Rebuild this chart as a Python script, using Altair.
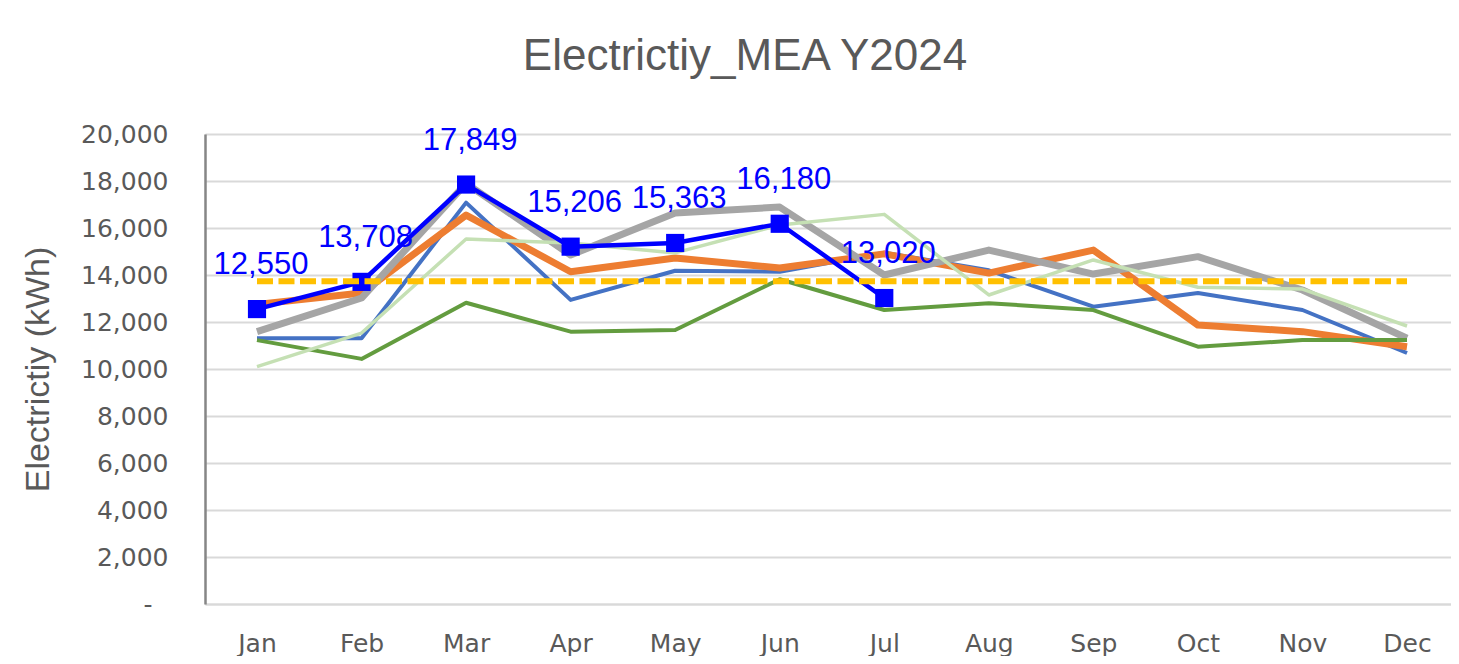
import altair as alt
import pandas as pd

months = ["Jan", "Feb", "Mar", "Apr", "May", "Jun", "Jul", "Aug", "Sep", "Oct", "Nov", "Dec"]

# Earlier years
y_blue = [11310, 11310, 17080, 12940, 14180, 14140, 14950, 14200, 12650, 13230, 12510, 10680]
y_orange = [12750, 13230, 16550, 14140, 14720, 14300, 14900, 14080, 15060, 11870, 11590, 10950]
y_gray = [11590, 13020, 17900, 14850, 16640, 16890, 14000, 15060, 14040, 14780, 13360, 11310]
y_green = [11230, 10430, 12820, 11590, 11660, 13820, 12510, 12800, 12510, 10950, 11230, 11230]
y_lightgreen = [10100, 11530, 15530, 15360, 14940, 16130, 16580, 13150, 14640, 13480, 13400, 11830]

# Current year
months_2024 = ["Jan", "Feb", "Mar", "Apr", "May", "Jun", "Jul"]
y_2024 = [12550, 13708, 17849, 15206, 15363, 16180, 13020]

# Average line
y_avg = [13730] * 12

FONT_T = "Liberation Sans"
FONT_A = "DejaVu Sans"
TXT = "#595959"

x_enc = alt.X(
    "month:N",
    sort=months,
    scale=alt.Scale(type="point", padding=0.459, align=0.5417),
    title=None,
    axis=alt.Axis(
        labelAngle=0,
        labelFont=FONT_A,
        labelFontSize=25,
        labelColor=TXT,
        labelPadding=47,
        labelBaseline="alphabetic",
        ticks=False,
        grid=False,
        domain=True,
        domainColor="#D9D9D9",
        domainWidth=2,
    ),
)

y_enc = alt.Y(
    "value:Q",
    scale=alt.Scale(domain=[0, 20000], nice=False, zero=True),
    axis=alt.Axis(
        values=list(range(0, 20001, 2000)),
        labelExpr="datum.value == 0 ? '-' : format(datum.value, ',')",
        labelFont=FONT_A,
        labelFontSize=25,
        labelColor=TXT,
        labelPadding={"condition": {"test": "datum.value === 0", "value": 53}, "value": 37},
        ticks=False,
        grid=True,
        gridColor="#D9D9D9",
        gridWidth=2,
        domain=True,
        domainColor="#868686",
        domainWidth=2.5,
        title="Electrictiy (kWh)",
        titleFont=FONT_T,
        titleFontSize=34,
        titleFontWeight="normal",
        titleColor=TXT,
        titleX=-167,
        titleY=235,
        titleAngle=-90,
        titleAlign="center",
        titleBaseline="middle",
    ),
)


def series_layer(vals, mon, color, width, dash=None):
    df = pd.DataFrame({"month": mon, "value": vals})
    kw = dict(color=color, strokeWidth=width, strokeJoin="round", strokeCap="butt")
    if dash:
        kw["strokeDash"] = dash
    return alt.Chart(df).mark_line(**kw).encode(x=x_enc, y=y_enc)


layers = [
    series_layer(y_blue, months, "#4472C4", 4),
    series_layer(y_orange, months, "#ED7D31", 7),
    series_layer(y_gray, months, "#A5A5A5", 7),
    series_layer(y_green, months, "#639C3F", 4),
    series_layer(y_lightgreen, months, "#C5E0B4", 3.5),
]

df24 = pd.DataFrame({"month": months_2024, "value": y_2024})
line24 = alt.Chart(df24).mark_line(color="#0000FF", strokeWidth=4.5).encode(x=x_enc, y=y_enc)
pts24 = alt.Chart(df24).mark_point(
    shape="square", filled=True, size=330, color="#0000FF", opacity=1
).encode(x=x_enc, y=y_enc)
lab24 = alt.Chart(df24).mark_text(
    font=FONT_T, fontSize=31, color="#0000FF", dx=4, dy=-35, baseline="alphabetic", align="center"
).encode(x=x_enc, y=y_enc, text=alt.Text("value:Q", format=","))

avg = series_layer(y_avg, months, "#FFC000", 6, dash=[16, 5.5])

chart = alt.layer(*layers, line24, pts24, lab24, avg).properties(
    width=1246,
    height=470,
    autosize=alt.AutoSizeParams(type="none"),
    padding={"left": 197, "top": 126, "right": 0, "bottom": 52},
    title=alt.TitleParams(
        "Electrictiy_MEA Y2024",
        font=FONT_T,
        fontSize=44,
        fontWeight="normal",
        color=TXT,
        anchor="middle",
        dx=-83,
        offset=43,
    ),
).configure_view(stroke=None).configure(background="white")

chart.save("out.html", embed_options={"renderer": "svg", "actions": False})
